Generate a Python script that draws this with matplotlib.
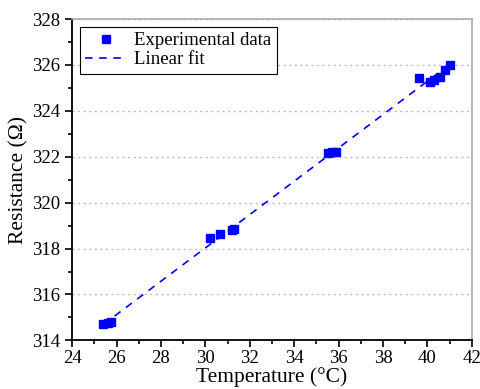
import numpy as np
import matplotlib.pyplot as plt
from matplotlib.ticker import MultipleLocator

# Data
temperature = np.array([25.4, 25.6, 25.75, 30.2, 30.65, 31.2, 31.3,
                        35.5, 35.7, 35.9, 39.6, 40.1, 40.3, 40.55, 40.8, 41.0])
resistance = np.array([314.70, 314.74, 314.78, 318.48, 318.65, 318.83, 318.85,
                       322.17, 322.20, 322.22, 325.45, 325.26, 325.35, 325.48, 325.80, 326.02])

plt.rcParams['font.family'] = ['Liberation Serif', 'DejaVu Serif']

fig = plt.figure(figsize=(4.81, 3.89), dpi=100)
ax = fig.add_axes([0.15, 0.125, 0.831, 0.826])

# linear fit
b1, b0 = np.polyfit(temperature, resistance, 1)
t_fit = np.array([temperature.min(), temperature.max()])
ax.plot(t_fit, b0 + b1 * t_fit, '--', color='blue', lw=1.2, dashes=(4.5, 4),
        label='Linear fit', zorder=2)
ax.plot(temperature, resistance, 's', color='blue', ms=6, ls='none',
        label='Experimental data', zorder=3)

ax.set_xlim(24, 42)
ax.set_ylim(314, 328)
ax.xaxis.set_major_locator(MultipleLocator(2))
ax.xaxis.set_minor_locator(MultipleLocator(1))
ax.yaxis.set_major_locator(MultipleLocator(2))
ax.yaxis.set_minor_locator(MultipleLocator(1))
ax.tick_params(which='both', direction='out', labelsize=13.5, width=1.2)
ax.tick_params(axis='x', pad=2)
ax.tick_params(which='major', length=5)
ax.tick_params(which='minor', length=3)
ax.grid(axis='y', which='major', ls=(0, (1.5, 2.5)), color='#bbbbbb', lw=1)

for s in ['left', 'bottom']:
    ax.spines[s].set_linewidth(1.3)
for s in ['top', 'right']:
    ax.spines[s].set_color('#aaaaaa')
    ax.spines[s].set_linewidth(1.2)

ax.set_xlabel('Temperature (°C)', fontsize=15.5, labelpad=0)
ax.set_ylabel('Resistance (Ω)', fontsize=15.5, labelpad=3)

handles, labels = ax.get_legend_handles_labels()
leg = ax.legend(handles[::-1], labels[::-1], loc='upper left', fontsize=13.5,
                fancybox=False, edgecolor='black', framealpha=1,
                handlelength=2.2, handletextpad=0.4, borderpad=0.3,
                labelspacing=0.1, borderaxespad=0.4, markerscale=0.85)
leg.get_frame().set_linewidth(0.8)

fig.savefig('out.png', dpi=100)
